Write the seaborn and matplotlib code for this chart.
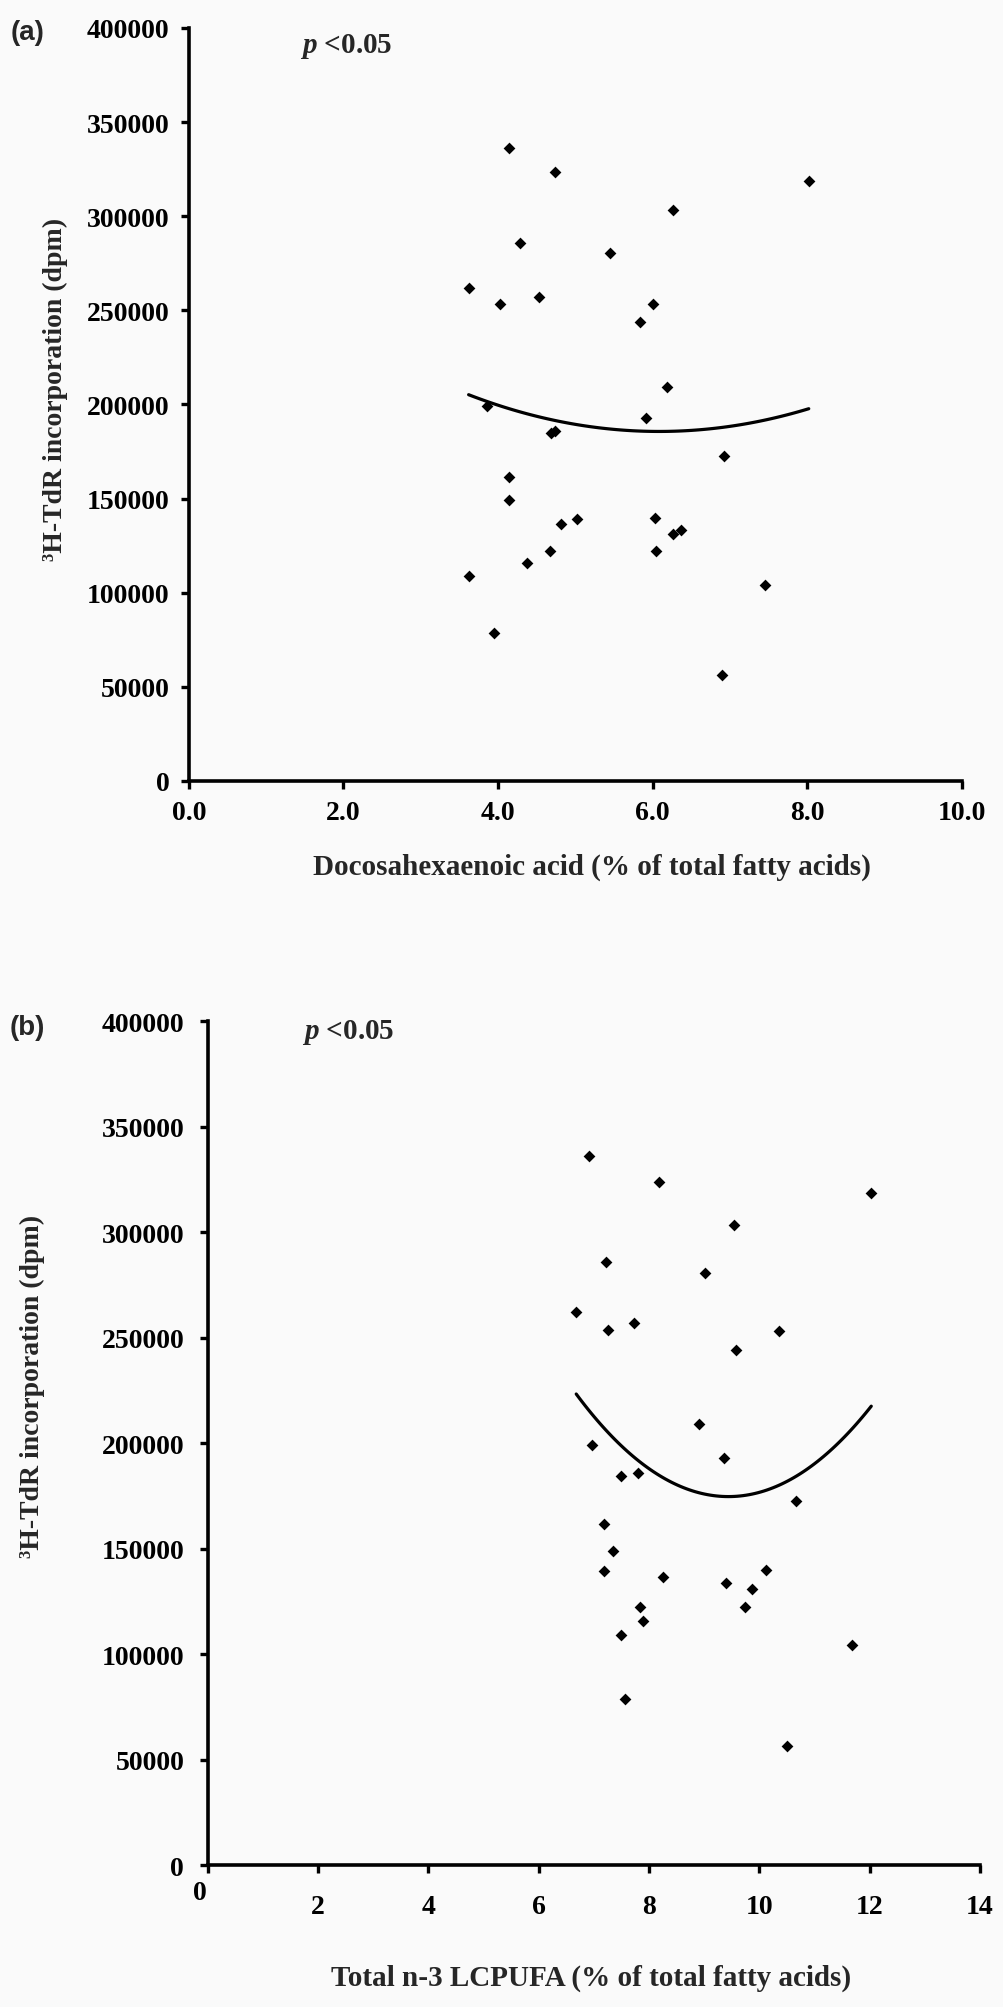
import pandas as pd
import seaborn as sns
import matplotlib.pyplot as plt
from matplotlib.transforms import ScaledTranslation

# -----------------------------------
# Data
# -----------------------------------

tdr_dpm = [336000, 323500, 318500, 303400, 286000, 280400, 262000, 253600,
           257000, 253200, 244000, 209000, 199000, 193000, 184600, 185700,
           172500, 161400, 149000, 139300, 139800, 136500, 133500, 131000,
           122200, 122200, 115800, 108800, 104200, 78500, 56300]

dha_pct = [4.14, 4.74, 8.02, 6.27, 4.28, 5.45, 3.62, 4.02,
           4.53, 6.01, 5.84, 6.19, 3.86, 5.91, 4.69, 4.74,
           6.92, 4.14, 4.14, 5.02, 6.03, 4.82, 6.37, 6.27,
           4.67, 6.05, 4.38, 3.62, 7.46, 3.95, 6.90]

n3_lcpufa_pct = [6.92, 8.18, 12.03, 9.55, 7.22, 9.02, 6.68, 7.26,
                 7.72, 10.36, 9.58, 8.90, 6.96, 9.36, 7.49, 7.80,
                 10.66, 7.18, 7.34, 7.18, 10.12, 8.25, 9.40, 9.86,
                 7.83, 9.74, 7.90, 7.49, 11.68, 7.56, 10.50]

y_ticks = [0, 50000, 100000, 150000, 200000, 250000, 300000, 350000, 400000]
dha_ticks = [0, 2, 4, 6, 8, 10]
dha_ticklabels = ["0.0", "2.0", "4.0", "6.0", "8.0", "10.0"]
n3_ticks = [0, 2, 4, 6, 8, 10, 12, 14]
n3_ticklabels = ["0", "2", "4", "6", "8", "10", "12", "14"]

ylabel = "³H-TdR incorporation (dpm)"
xlabel_a = "Docosahexaenoic acid (% of total fatty acids)"
xlabel_b = "Total n-3 LCPUFA (% of total fatty acids)"

df = pd.DataFrame({"tdr": tdr_dpm, "dha": dha_pct, "n3": n3_lcpufa_pct})

# -----------------------------------
# Style
# -----------------------------------

sns.set_style("ticks")
plt.rcParams["font.family"] = ["Liberation Serif", "DejaVu Serif"]
plt.rcParams["font.weight"] = "bold"
plt.rcParams["mathtext.fontset"] = "custom"
plt.rcParams["mathtext.it"] = "Liberation Serif:italic"
plt.rcParams["mathtext.rm"] = "Liberation Serif:bold"

bg = "#fafafa"
fig = plt.figure(figsize=(10.04, 20.08), dpi=100, facecolor=bg)

ax_a = fig.add_axes([0.188, 0.6106, 0.770, 0.375])
ax_b = fig.add_axes([0.207, 0.0707, 0.769, 0.4203])

panels = [
    (ax_a, "dha", dha_ticks, dha_ticklabels, (0, 10), xlabel_a,
     (0.521, -0.114), (-0.173, 0.521), (0.144, 0.976), 8, 8),
    (ax_b, "n3", n3_ticks, n3_ticklabels, (0, 14), xlabel_b,
     (0.496, -0.133), (-0.227, 0.568), (0.122, 0.988), 15, 11),
]

# -----------------------------------
# Scatter + quadratic trend per panel
# -----------------------------------

for ax, xcol, xt, xtl, xlim, xlab, xlab_pos, ylab_pos, p_pos, xpad, ypad in panels:

    ax.set_facecolor(bg)

    sns.regplot(
        data=df, x=xcol, y="tdr",
        order=2, ci=None, ax=ax,
        marker="D", color="black",
        scatter_kws={"s": 36, "linewidths": 0, "alpha": 1},
        line_kws={"lw": 2.3, "color": "black"}
    )

    ax.set_xlim(*xlim)
    ax.set_ylim(0, 400000)

    ax.set_xticks(xt)
    ax.set_xticklabels(xtl)
    ax.set_yticks(y_ticks)
    ax.set_yticklabels([str(v) for v in y_ticks])

    for s in ["top", "right"]:
        ax.spines[s].set_visible(False)
    for s in ["left", "bottom"]:
        ax.spines[s].set_linewidth(2.6)
        ax.spines[s].set_color("black")

    ax.tick_params(axis="x", direction="out", length=6, width=2.4,
                   labelsize=20, pad=xpad, colors="black")
    ax.tick_params(axis="y", direction="out", length=6, width=2.4,
                   labelsize=20, pad=ypad, colors="black")

    ax.set_xlabel(xlab, fontsize=21, fontweight="bold", va="center")
    ax.xaxis.set_label_coords(*xlab_pos)
    ax.set_ylabel(ylabel, fontsize=20, fontweight="bold", va="center")
    ax.yaxis.set_label_coords(*ylab_pos)

    ax.text(p_pos[0], p_pos[1], r"$p$ <0.05", transform=ax.transAxes,
            fontsize=21, fontweight="bold", ha="left", va="center")

# the "0" on the lower x axis sits a little up and to the left
zero_lbl = ax_b.get_xticklabels()[0]
zero_lbl.set_transform(zero_lbl.get_transform() +
                       ScaledTranslation(-8 / 100, 14 / 100, fig.dpi_scale_trans))

fig.text(0.027, 0.9836, "(a)", fontsize=20, fontweight="bold",
         family="Liberation Sans", ha="center", va="center")
fig.text(0.027, 0.488, "(b)", fontsize=20, fontweight="bold",
         family="Liberation Sans", ha="center", va="center")

plt.savefig("out.png", dpi=100, facecolor=bg)
